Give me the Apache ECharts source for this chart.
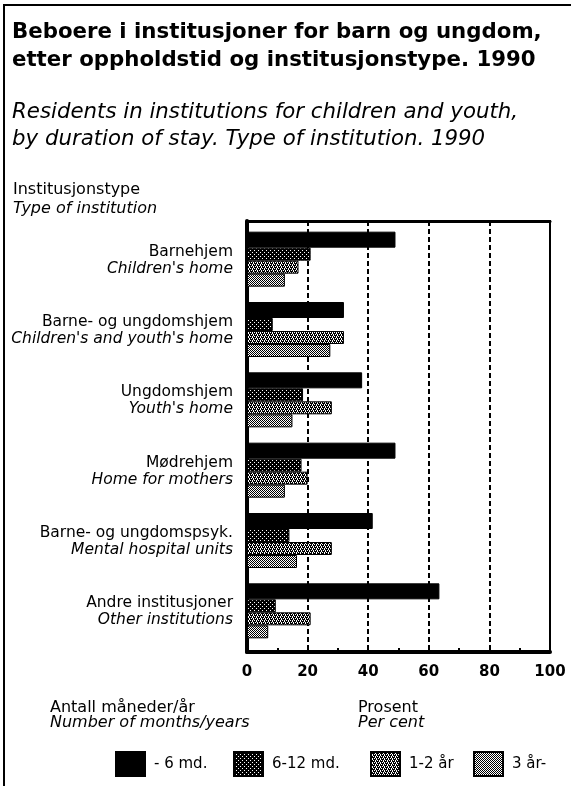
<!DOCTYPE html>
<html>
<head>
<meta charset="utf-8">
<script src="https://cdn.jsdelivr.net/npm/echarts@6/dist/echarts.min.js"></script>
<style>
  html, body { margin: 0; padding: 0; background: #fff; }
  #chart { width: 571px; height: 786px; }
</style>
</head>
<body>
<div id="chart"></div>
<script>
// institution types, top to bottom
const categoriesNo = [
  "Barnehjem",
  "Barne- og ungdomshjem",
  "Ungdomshjem",
  "Mødrehjem",
  "Barne- og ungdomspsyk.",
  "Andre institusjoner"
];
const categoriesEn = [
  "Children's home",
  "Children's and youth's home",
  "Youth's home",
  "Home for mothers",
  "Mental hospital units",
  "Other institutions"
];

const seriesNames = ["- 6 md.", "6-12 md.", "1-2 år", "3 år-"];

// per cent
const under6md = [49, 32, 38, 49, 41.5, 63.5];
const md6to12 = [21, 8.5, 18.5, 18, 14, 9.5];
const aar1to2 = [17, 32, 28, 20, 28, 21];
const aar3plus = [12.5, 27.5, 15, 12.5, 16.5, 7];

const xTicks = [0, 20, 40, 60, 80, 100];

const FONT = "DejaVu Sans";

// little dot patterns like the printed screens
function makePattern(bg, fg, dots) {
  const c = document.createElement("canvas");
  c.width = 4;
  c.height = 4;
  const ctx = c.getContext("2d");
  ctx.fillStyle = bg;
  ctx.fillRect(0, 0, 4, 4);
  ctx.fillStyle = fg;
  dots.forEach(([x, y]) => ctx.fillRect(x, y, 1, 1));
  return { image: c, repeat: "repeat" };
}

const fills = [
  "#000",
  makePattern("#000", "#fff", [[0, 0], [2, 2]]),
  makePattern("#000", "#fff", [[0, 0], [2, 0], [1, 2], [3, 2], [0, 1], [1, 3]]),
  makePattern("#fff", "#000", [[0, 0], [2, 0], [1, 1], [3, 1], [0, 2], [2, 2], [1, 3], [3, 3]])
];
const dataSets = [under6md, md6to12, aar1to2, aar3plus];
const widths = [16, 13, 13, 13];
const legendLeft = [110, 228, 365, 468];

const twoLines = (top, left, a, b, size, lh) => ({
  text: "{a|" + a + "}\n{b|" + b + "}",
  left: left,
  top: top,
  textStyle: {
    rich: {
      a: { fontFamily: FONT, fontSize: size, lineHeight: lh, fontWeight: "normal", color: "#000" },
      b: { fontFamily: FONT, fontSize: size, lineHeight: lh, fontWeight: "normal", fontStyle: "italic", color: "#000" }
    }
  }
});

const chart = echarts.init(document.getElementById("chart"));

chart.setOption({
  animation: false,
  backgroundColor: "#fff",
  title: [
    {
      text: "Beboere i institusjoner for barn og ungdom,\netter oppholdstid og institusjonstype. 1990",
      left: 7,
      top: 13,
      textStyle: { fontFamily: FONT, fontWeight: "bold", fontSize: 21.3, lineHeight: 28, color: "#000" }
    },
    {
      text: "Residents in institutions for children and youth,\nby duration of stay. Type of institution. 1990",
      left: 7,
      top: 94,
      textStyle: { fontFamily: FONT, fontStyle: "italic", fontWeight: "normal", fontSize: 21.3, lineHeight: 27, color: "#000" }
    },
    twoLines(175, 8, "Institusjonstype", "Type of institution", 16, 19),
    twoLines(695, 45, "Antall måneder/år", "Number of months/years", 16, 15),
    twoLines(695, 353, "Prosent", "Per cent", 16, 15)
  ],
  legend: seriesNames.map((n, i) => ({
    left: legendLeft[i],
    top: 746,
    itemWidth: 29,
    itemHeight: 24,
    icon: "rect",
    data: [n],
    textStyle: { fontFamily: FONT, fontSize: 15, color: "#000", padding: [0, 0, 0, 4] }
  })),
  graphic: [
    { type: "line", shape: { x1: 4, y1: 4, x2: 4, y2: 786 }, style: { stroke: "#000", lineWidth: 2 } },
    { type: "line", shape: { x1: 3, y1: 5, x2: 571, y2: 5 }, style: { stroke: "#000", lineWidth: 2 } }
  ],
  grid: [
    // frame, grid lines and value labels
    { left: 247, right: 21, top: 221, bottom: 134, show: true, borderColor: "#000", borderWidth: 2 },
    // the bars
    { left: 247, right: 21, top: 224, bottom: 140 }
  ],
  xAxis: [
    {
      gridIndex: 0,
      type: "value",
      min: xTicks[0],
      max: xTicks[xTicks.length - 1],
      interval: 20,
      axisLine: { show: true, lineStyle: { color: "#000", width: 4 } },
      axisTick: { show: true, inside: true, length: 5, lineStyle: { color: "#000", width: 2 } },
      minorTick: { show: true, splitNumber: 2, length: 4, lineStyle: { color: "#000", width: 2 } },
      axisLabel: { margin: 13, fontFamily: FONT, fontSize: 15, fontWeight: "bold", color: "#000" },
      splitLine: { show: true, lineStyle: { color: "#000", width: 2, type: [5, 3] } }
    },
    {
      gridIndex: 0,
      type: "value",
      position: "top",
      min: 0,
      max: 100,
      axisLine: { show: true, lineStyle: { color: "#000", width: 3 } },
      axisTick: { show: false },
      axisLabel: { show: false },
      splitLine: { show: false }
    },
    {
      gridIndex: 1,
      type: "value",
      min: 0,
      max: 100,
      show: false
    }
  ],
  yAxis: [
    {
      gridIndex: 0,
      type: "value",
      position: "right",
      axisLine: { show: true, lineStyle: { color: "#000", width: 4 } },
      axisTick: { show: false },
      axisLabel: { show: false },
      splitLine: { show: false }
    },
    {
      gridIndex: 1,
      type: "category",
      inverse: true,
      data: categoriesNo,
      axisLine: { show: false },
      axisTick: { show: false },
      axisLabel: {
        margin: 14,
        padding: [2, 0, 0, 0],
        formatter: (v, i) => "{a|" + v + "}\n{b|" + categoriesEn[i] + "}",
        rich: {
          a: { fontFamily: FONT, fontSize: 15.5, lineHeight: 17, color: "#000", align: "right" },
          b: { fontFamily: FONT, fontSize: 15.5, lineHeight: 17, fontStyle: "italic", color: "#000", align: "right" }
        }
      }
    }
  ],
  series: dataSets.map((d, i) => ({
    name: seriesNames[i],
    type: "bar",
    xAxisIndex: 2,
    yAxisIndex: 1,
    data: d,
    barWidth: widths[i],
    barGap: "0%",
    itemStyle: { color: fills[i], borderColor: "#000", borderWidth: 1 }
  }))
});
</script>
</body>
</html>
